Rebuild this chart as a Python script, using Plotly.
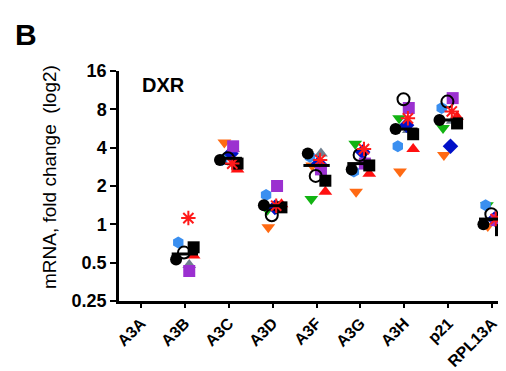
import plotly.graph_objects as go
import numpy as np

categories = ["A3A", "A3B", "A3C", "A3D", "A3F", "A3G", "A3H", "p21", "RPL13A"]
y_tick_vals = [0.25, 0.5, 1, 2, 4, 8, 16]
y_tick_text = ["0.25", "0.5", "1", "2", "4", "8", "16"]

# fold change per sample, order follows categories
orange_tri = [None, None, 4.4, 0.95, 2.9, 1.8, 2.6, 3.5, 0.97]
green_tri = [None, None, 3.3, 1.3, 1.58, 4.3, 6.8, 5.7, 1.41]
gray_tri = [None, 0.48, 3.9, 1.4, 3.6, 3.1, 5.5, 6.5, 1.1]
red_tri = [None, 0.57, 2.7, 1.44, 1.8, 2.5, 3.9, 7.0, 1.08]
navy_diamond = [None, None, 3.6, 1.36, 3.0, 3.7, 6.0, 4.1, 1.1]
blue_hex = [None, 0.72, 3.2, 1.7, 3.4, 2.6, 4.1, 8.2, 1.41]
purple_sq = [None, 0.43, 4.1, 2.0, 2.7, 3.0, 8.2, 9.8, 1.08]
black_circle = [None, 0.53, 3.2, 1.41, 3.6, 2.7, 5.6, 6.6, 1.0]
black_sq = [None, 0.66, 3.0, 1.36, 2.2, 2.9, 5.1, 6.2, 0.9]
open_circle = [None, 0.6, 3.3, 1.18, 2.4, 3.5, 9.6, 9.2, 1.2]
red_star = [None, 1.12, 3.0, 1.4, 3.2, 3.9, 6.8, 7.7, 1.1]

series = [
    (orange_tri, "triangle-down", "#ff6a13", -0.10),
    (green_tri, "triangle-down", "#12b312", -0.12),
    (gray_tri, "triangle-up", "#6f7f8f", 0.10),
    (red_tri, "triangle-up", "#ff1010", 0.20),
    (navy_diamond, "diamond", "#0010c8", 0.05),
    (blue_hex, "hexagon", "#3a8ff0", -0.15),
    (purple_sq, "square", "#9b30d0", 0.10),
    (black_circle, "circle", "#000000", -0.20),
    (black_sq, "square", "#000000", 0.20),
    (open_circle, "circle-open", "#000000", -0.02),
    (red_star, "asterisk-open", "#ff1a1a", 0.08),
]

fig = go.Figure()
for vals, sym, col, off in series:
    xs = [i + off for i, v in enumerate(vals) if v is not None]
    ys = [v for v in vals if v is not None]
    fig.add_trace(go.Scatter(
        x=xs, y=ys, mode="markers", cliponaxis=False,
        marker=dict(symbol=sym, size=12, color=col,
                    line=dict(color=col, width=2 if "open" in sym else 0)),
        showlegend=False, hoverinfo="skip"))

# median lines
mx, my = [], []
for i in range(len(categories)):
    vals = [s[0][i] for s in series if s[0][i] is not None]
    if vals:
        m = float(np.median(vals))
        mx += [i - 0.3, i + 0.3, None]
        my += [m, m, None]
fig.add_trace(go.Scatter(x=mx, y=my, mode="lines", cliponaxis=False,
                         line=dict(color="black", width=3),
                         showlegend=False, hoverinfo="skip"))

font = "Liberation Sans, Arial, sans-serif"
L, R, T, B = 111, 6, 63, 78
W, H = 506, 371
pw, ph = W - L - R, H - T - B

fig.update_layout(
    width=W, height=H,
    margin=dict(l=L, r=R, t=T, b=B),
    paper_bgcolor="white", plot_bgcolor="white",
    font=dict(family=font, color="black"),
    xaxis=dict(range=[-0.5, 8.36], tickvals=list(range(len(categories))),
               ticktext=["<b>%s</b>" % c for c in categories],
               tickangle=-45, tickfont=dict(size=16, family=font),
               showgrid=False, zeroline=False, showline=True, automargin=False,
               linecolor="black", linewidth=2.5, ticks="outside",
               ticklen=4, tickwidth=2, tickcolor="black"),
    yaxis=dict(type="log", range=[np.log10(0.25), np.log10(16)],
               tickvals=y_tick_vals,
               ticktext=["<b>%s</b>" % t for t in y_tick_text],
               tickfont=dict(size=18, family=font),
               showgrid=False, zeroline=False, showline=True, automargin=False,
               linecolor="black", linewidth=2.5, ticks="outside",
               ticklen=6, tickwidth=2, tickcolor="black"),
    annotations=[
        dict(text="<b>B</b>", x=(5 - L) / pw, y=1 + (T - 8) / ph,
             xref="paper", yref="paper", xanchor="left", yanchor="top",
             showarrow=False, font=dict(size=30, family=font)),
        dict(text="<b>DXR</b>", x=(132 - L) / pw, y=1 - (64 - T) / ph,
             xref="paper", yref="paper", xanchor="left", yanchor="top",
             showarrow=False, font=dict(size=20, family=font)),
        dict(text="mRNA, fold change  (log2)", textangle=-90,
             x=(41 - L) / pw, y=1 - (169 - T) / ph,
             xref="paper", yref="paper", xanchor="center", yanchor="middle",
             showarrow=False, font=dict(size=19, family=font)),
    ],
)

fig.write_html("out.html")
